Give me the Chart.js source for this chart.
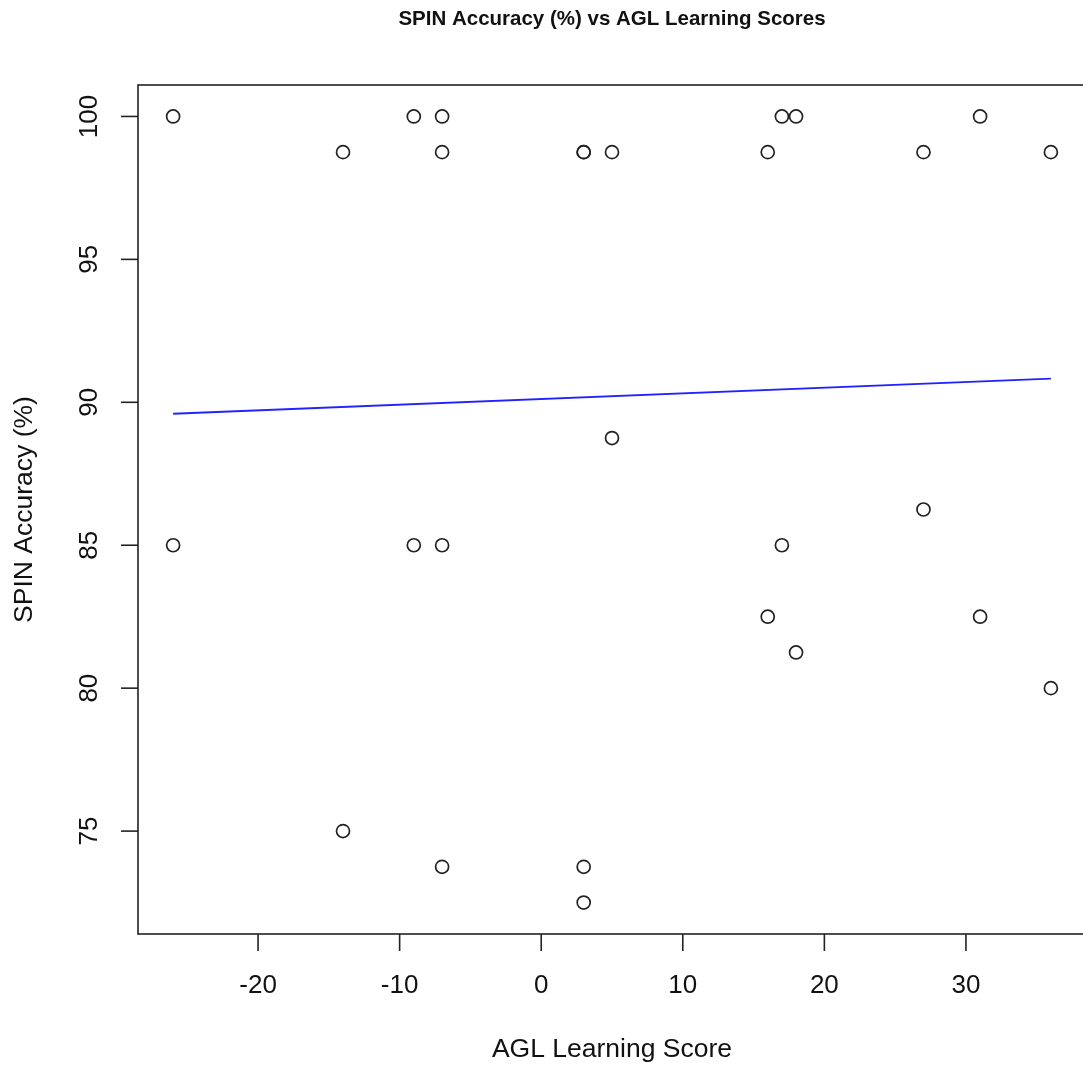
<!DOCTYPE html>
<html>
<head>
<meta charset="utf-8">
<title>SPIN Accuracy vs AGL Learning Scores</title>
<script src="https://cdn.jsdelivr.net/npm/chart.js@4/dist/chart.umd.min.js"></script>
<style>
  html, body { margin: 0; padding: 0; background: #fff; overflow: hidden; }
  #wrap { width: 1100px; height: 1068px; }
</style>
</head>
<body>
<div id="wrap"><canvas id="spinChart"></canvas></div>
<script>
// AGL learning score for each observation
var aglScores = [-26, -26, -14, -14, -9, -9, -7, -7, -7, -7, 3, 3, 3, 3,
  5, 5, 16, 16, 17, 17, 18, 18, 27, 27, 31, 31, 36, 36];
// SPIN accuracy (%) for each observation
var spinAccuracy = [100, 85, 98.75, 75, 100, 85, 100, 85, 98.75, 73.75, 98.75, 73.75, 98.75, 72.5,
  98.75, 88.75, 98.75, 82.5, 100, 85, 100, 81.25, 98.75, 86.25, 100, 82.5, 98.75, 80];
// fitted line end points
var fitX = [-26, 36];
var fitY = [89.6, 90.83];

var xTicks = [-20, -10, 0, 10, 20, 30];
var yTicks = [75, 80, 85, 90, 95, 100];

var points = aglScores.map(function (x, i) {
  return { x: x, y: spinAccuracy[i] };
});
var fitLine = fitX.map(function (x, i) {
  return { x: x, y: fitY[i] };
});

var FONT = "'Liberation Sans', Arial, Helvetica, sans-serif";
var INK = "#222";

// R style box, axes and labels
var baseAxes = {
  id: "baseAxes",
  afterDraw: function (chart) {
    var ctx = chart.ctx;
    var a = chart.chartArea;
    var xs = chart.scales.x;
    var ys = chart.scales.y;
    ctx.save();
    ctx.strokeStyle = INK;
    ctx.lineWidth = 1.6;
    ctx.strokeRect(a.left, a.top, a.right - a.left, a.bottom - a.top);

    ctx.fillStyle = "#111";
    ctx.font = "26px " + FONT;
    ctx.textAlign = "center";
    ctx.textBaseline = "middle";

    xTicks.forEach(function (t) {
      var px = xs.getPixelForValue(t);
      ctx.beginPath();
      ctx.moveTo(px, a.bottom);
      ctx.lineTo(px, a.bottom + 17);
      ctx.stroke();
      ctx.fillText(String(t), px, 986);
    });

    yTicks.forEach(function (t) {
      var py = ys.getPixelForValue(t);
      ctx.beginPath();
      ctx.moveTo(a.left - 17, py);
      ctx.lineTo(a.left, py);
      ctx.stroke();
      ctx.save();
      ctx.translate(90, py);
      ctx.rotate(-Math.PI / 2);
      ctx.fillText(String(t), 0, 0);
      ctx.restore();
    });

    var midX = (a.left + a.right) / 2;
    var midY = (a.top + a.bottom) / 2;

    ctx.font = "26.5px " + FONT;
    ctx.fillText("AGL Learning Score", midX, 1050);
    ctx.save();
    ctx.translate(25, midY);
    ctx.rotate(-Math.PI / 2);
    ctx.fillText("SPIN Accuracy (%)", 0, 0);
    ctx.restore();

    ctx.font = "bold 20.5px " + FONT;
    ctx.fillText("SPIN Accuracy (%) vs AGL Learning Scores", midX, 19);
    ctx.restore();
  }
};

var ctx = document.getElementById("spinChart").getContext("2d");
var spinChart = new Chart(ctx, {
  type: "scatter",
  data: {
    datasets: [
      {
        label: "Observations",
        data: points,
        backgroundColor: "rgba(0,0,0,0)",
        borderColor: INK,
        borderWidth: 1.7,
        pointRadius: 6.5,
        pointHoverRadius: 6.5,
      },
      {
        type: "line",
        label: "Fit",
        data: fitLine,
        borderColor: "#2222ff",
        borderWidth: 1.8,
        pointRadius: 0,
        fill: false,
      },
    ],
  },
  options: {
    responsive: true,
    maintainAspectRatio: false,
    animation: false,
    layout: {
      padding: { left: 138, right: 14, top: 85, bottom: 134 },
    },
    plugins: {
      legend: { display: false },
      tooltip: { enabled: false },
    },
    scales: {
      x: { type: "linear", min: -28.48, max: 38.48, display: false },
      y: { type: "linear", min: 71.4, max: 101.1, display: false },
    },
  },
  plugins: [baseAxes],
});
</script>
</body>
</html>
